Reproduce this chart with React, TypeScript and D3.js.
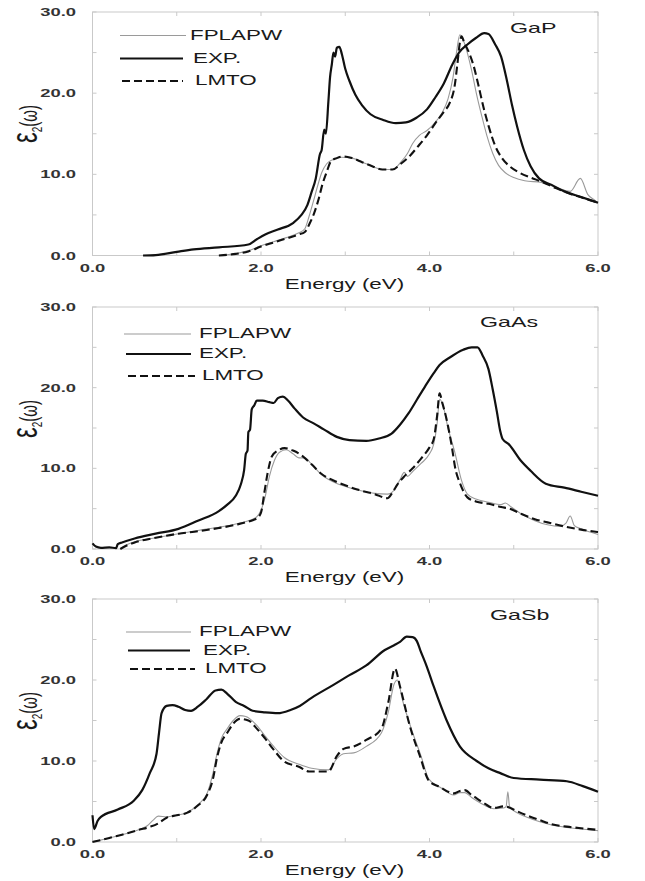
import React from "react";
import * as d3 from "d3";

type P = [number, number];

// ---------- data ----------
const xTicks = [0, 1, 2, 3, 4, 5, 6];
const xTickLabels = [0, 2, 4, 6];
const yTicks = [0, 5, 10, 15, 20, 25, 30];
const yTickLabels = [0, 10, 20, 30];
const seriesNames = ["FPLAPW", "EXP.", "LMTO"];
const materials = ["GaP", "GaAs", "GaSb"];

const gapExp: P[] = [[0.6,0],[0.75,0.05],[1.0,0.45],[1.2,0.75],[1.5,1.0],[1.85,1.35],[1.95,2.0],[2.05,2.6],[2.2,3.2],[2.38,4.0],[2.48,5.0],[2.55,6.2],[2.6,7.8],[2.65,9.5],[2.7,12.5],[2.72,13.0],[2.75,15.5],[2.77,15.0],[2.8,19.0],[2.82,22.0],[2.84,23.5],[2.86,25.0],[2.88,24.5],[2.9,25.6],[2.93,25.7],[2.96,24.8],[3.0,23.0],[3.05,21.5],[3.12,19.8],[3.2,18.5],[3.3,17.4],[3.45,16.7],[3.6,16.3],[3.72,16.4],[3.85,17.0],[3.97,18.0],[4.07,19.5],[4.17,21.2],[4.27,23.5],[4.35,25.0],[4.45,26.0],[4.55,26.8],[4.65,27.4],[4.7,27.3],[4.78,26.0],[4.85,24.5],[4.92,21.5],[4.98,18.5],[5.04,15.9],[5.12,13.0],[5.2,11.0],[5.3,9.5],[5.45,8.7],[5.6,7.9],[5.8,7.2],[6.0,6.5]];
const gapLmto: P[] = [[1.5,0],[1.7,0.2],[1.85,0.5],[2.0,1.1],[2.15,1.6],[2.3,2.1],[2.45,2.6],[2.52,2.9],[2.58,4.0],[2.63,5.2],[2.68,6.8],[2.73,8.8],[2.78,10.3],[2.83,11.6],[2.9,12.0],[2.98,12.2],[3.08,12.0],[3.2,11.5],[3.32,11.0],[3.44,10.6],[3.56,10.6],[3.66,11.3],[3.76,12.2],[3.86,13.4],[3.97,14.8],[4.07,16.3],[4.17,17.7],[4.24,18.8],[4.3,21.0],[4.33,23.5],[4.36,26.2],[4.38,27.0],[4.41,26.3],[4.46,25.2],[4.52,23.5],[4.58,21.0],[4.64,18.3],[4.7,16.0],[4.78,13.5],[4.86,12.0],[4.95,11.0],[5.05,10.3],[5.2,9.6],[5.33,9.1],[5.5,8.3],[5.67,7.6],[5.85,7.0],[6.0,6.5]];
const gapFp: P[] = [[1.5,0],[1.7,0.25],[1.85,0.6],[2.0,1.2],[2.15,1.7],[2.3,2.2],[2.45,2.8],[2.52,3.3],[2.57,4.8],[2.62,6.6],[2.67,8.5],[2.72,10.2],[2.78,11.3],[2.85,11.8],[2.95,12.1],[3.08,12.0],[3.2,11.5],[3.32,11.0],[3.44,10.6],[3.56,10.6],[3.66,11.5],[3.74,12.6],[3.8,13.8],[3.88,14.8],[3.97,15.4],[4.05,16.2],[4.15,17.6],[4.22,19.3],[4.28,22.0],[4.32,25.0],[4.36,27.2],[4.39,26.8],[4.44,25.3],[4.5,22.8],[4.56,19.8],[4.62,17.2],[4.68,14.8],[4.75,12.6],[4.82,11.1],[4.9,10.2],[5.0,9.6],[5.13,9.2],[5.33,9.0],[5.5,8.4],[5.67,7.9],[5.79,9.5],[5.88,7.5],[5.95,6.9],[6.0,6.5]];

const gaasExp: P[] = [[0.0,0.7],[0.04,0.3],[0.1,0.15],[0.2,0.2],[0.28,0.1],[0.3,0.6],[0.35,0.8],[0.5,1.3],[0.75,1.9],[1.02,2.5],[1.25,3.5],[1.5,4.7],[1.6,5.5],[1.7,6.6],[1.76,8.0],[1.8,9.8],[1.82,11.8],[1.84,12.2],[1.85,14.5],[1.87,14.8],[1.89,17.3],[1.92,17.8],[1.95,18.4],[2.02,18.4],[2.1,18.2],[2.15,18.1],[2.2,18.7],[2.26,18.9],[2.32,18.4],[2.4,17.4],[2.5,16.3],[2.62,15.6],[2.75,14.8],[2.9,13.9],[3.05,13.5],[3.25,13.4],[3.4,13.7],[3.55,14.3],[3.65,15.4],[3.75,16.8],[3.85,18.5],[3.95,20.2],[4.05,21.8],[4.12,22.8],[4.25,23.8],[4.4,24.7],[4.5,25.0],[4.57,25.0],[4.63,24.0],[4.7,22.3],[4.75,19.8],[4.8,17.0],[4.84,14.6],[4.87,13.6],[4.94,13.0],[5.08,11.0],[5.2,9.7],[5.38,8.1],[5.6,7.6],[5.8,7.1],[6.0,6.6]];
const gaasLmto: P[] = [[0.33,0],[0.4,0.4],[0.5,0.8],[0.75,1.4],[1.02,1.9],[1.25,2.2],[1.5,2.6],[1.7,3.0],[1.85,3.4],[1.95,3.8],[2.0,4.5],[2.04,7.0],[2.08,9.5],[2.13,11.5],[2.2,12.2],[2.28,12.5],[2.38,12.2],[2.47,11.7],[2.6,10.5],[2.72,9.3],[2.88,8.4],[3.05,7.7],[3.2,7.2],[3.35,6.8],[3.5,6.3],[3.56,7.0],[3.62,8.0],[3.7,9.0],[3.8,10.0],[3.9,11.2],[4.0,12.6],[4.05,13.6],[4.09,16.5],[4.12,19.3],[4.15,18.2],[4.2,16.2],[4.26,13.0],[4.31,9.8],[4.36,8.2],[4.45,6.4],[4.55,5.9],[4.7,5.6],[4.85,5.2],[4.95,5.0],[5.1,4.3],[5.25,3.7],[5.4,3.3],[5.6,2.8],[5.8,2.4],[6.0,2.1]];
const gaasFp: P[] = [[0.33,0],[0.4,0.5],[0.5,0.9],[0.75,1.4],[1.02,1.9],[1.25,2.3],[1.5,2.7],[1.7,3.1],[1.85,3.5],[1.95,4.0],[2.0,4.8],[2.05,6.5],[2.1,9.0],[2.16,11.0],[2.22,12.0],[2.3,12.3],[2.38,11.8],[2.45,11.3],[2.52,11.3],[2.6,10.5],[2.72,9.2],[2.88,8.2],[3.05,7.6],[3.2,7.2],[3.35,6.9],[3.5,6.8],[3.58,7.3],[3.65,8.6],[3.7,9.5],[3.74,9.0],[3.8,9.6],[3.9,10.6],[4.0,11.8],[4.05,13.0],[4.09,15.5],[4.12,18.6],[4.16,17.8],[4.22,15.0],[4.3,12.0],[4.38,8.5],[4.45,6.8],[4.55,6.2],[4.7,5.8],[4.85,5.5],[4.9,5.7],[4.97,5.2],[5.1,4.3],[5.25,3.5],[5.4,3.0],[5.55,2.8],[5.62,3.2],[5.67,4.1],[5.72,2.9],[5.8,2.5],[6.0,1.8]];

const gasbExp: P[] = [[0.0,3.3],[0.02,1.6],[0.06,2.6],[0.1,3.1],[0.3,4.0],[0.49,5.1],[0.59,6.4],[0.68,8.5],[0.76,10.9],[0.79,13.5],[0.82,15.9],[0.88,16.8],[0.95,16.9],[1.02,16.7],[1.1,16.3],[1.17,16.2],[1.25,16.7],[1.35,17.6],[1.46,18.7],[1.53,18.8],[1.6,18.3],[1.7,17.3],[1.8,16.8],[1.9,16.2],[2.05,16.0],[2.2,15.9],[2.35,16.3],[2.46,16.8],[2.6,17.8],[2.86,19.4],[3.05,20.6],[3.25,21.8],[3.47,23.7],[3.58,24.3],[3.65,24.7],[3.73,25.35],[3.8,25.3],[3.85,24.8],[3.89,23.7],[3.97,21.6],[4.05,19.2],[4.2,15.1],[4.36,11.8],[4.56,10.0],[4.7,9.1],[4.84,8.5],[5.0,7.9],[5.31,7.7],[5.63,7.5],[5.82,6.9],[6.0,6.2]];
const gasbLmto: P[] = [[0.0,0],[0.2,0.5],[0.35,0.9],[0.55,1.5],[0.69,1.9],[0.78,2.3],[0.88,3.0],[1.0,3.3],[1.12,3.6],[1.25,4.5],[1.36,5.8],[1.43,7.8],[1.48,10.5],[1.53,12.3],[1.6,13.5],[1.67,14.6],[1.75,15.2],[1.85,15.0],[1.95,14.0],[2.04,12.9],[2.15,11.4],[2.28,9.9],[2.45,9.3],[2.57,8.7],[2.8,8.7],[2.9,10.6],[2.98,11.5],[3.1,11.8],[3.25,12.6],[3.43,14.0],[3.51,17.2],[3.59,21.4],[3.65,19.2],[3.77,14.2],[3.89,10.5],[3.99,7.6],[4.12,6.8],[4.29,6.0],[4.36,6.3],[4.42,6.4],[4.5,5.8],[4.56,5.4],[4.66,4.7],[4.76,4.2],[4.88,4.4],[4.96,4.2],[5.04,3.8],[5.15,3.3],[5.31,2.7],[5.45,2.2],[5.63,1.9],[5.8,1.7],[6.0,1.5]];
const gasbFp: P[] = [[0.0,0],[0.2,0.5],[0.35,0.9],[0.55,1.5],[0.65,2.0],[0.72,2.7],[0.78,3.2],[0.88,3.1],[1.0,3.3],[1.12,3.6],[1.25,4.6],[1.36,6.0],[1.43,8.5],[1.48,11.0],[1.53,12.8],[1.6,14.0],[1.67,15.0],[1.75,15.6],[1.82,15.5],[1.95,14.4],[2.04,13.2],[2.15,11.8],[2.28,10.4],[2.45,9.6],[2.6,9.1],[2.8,8.9],[2.9,10.3],[2.98,10.9],[3.1,11.0],[3.25,11.8],[3.43,13.5],[3.51,16.0],[3.58,19.5],[3.62,20.0],[3.68,17.5],[3.79,13.8],[3.9,10.6],[3.99,7.8],[4.12,6.8],[4.29,5.8],[4.36,6.1],[4.42,6.1],[4.5,5.5],[4.56,5.1],[4.66,4.5],[4.76,4.1],[4.88,4.2],[4.91,4.4],[4.93,6.2],[4.95,4.4],[5.04,3.6],[5.15,3.1],[5.31,2.5],[5.45,2.1],[5.63,1.8],[5.8,1.6],[6.0,1.4]];

const panelSeries = [
  { fp: gapFp, exp: gapExp, lmto: gapLmto },
  { fp: gaasFp, exp: gaasExp, lmto: gaasLmto },
  { fp: gasbFp, exp: gasbExp, lmto: gasbLmto },
];

// ---------- layout ----------
const SX = 1.6; // horizontal text stretch of the reference
const FONT = "'Liberation Sans', Arial, Helvetica, sans-serif";
const layouts = [
  { top: 12, bottom: 255.5, name: [510, 32.7],
    legend: [ { x1: 120, x2: 186, tx: 190, by: 39.5 }, { x1: 120, x2: 183, tx: 193, by: 62.5 }, { x1: 122, x2: 183, tx: 195, by: 85 } ] },
  { top: 307, bottom: 549, name: [480, 327],
    legend: [ { x1: 124, x2: 191, tx: 199, by: 338 }, { x1: 126, x2: 191, tx: 199, by: 358 }, { x1: 128, x2: 195, tx: 202, by: 380 } ] },
  { top: 599, bottom: 842, name: [490, 620],
    legend: [ { x1: 126, x2: 191, tx: 199, by: 636 }, { x1: 128, x2: 190, tx: 203, by: 654.5 }, { x1: 130, x2: 195, tx: 205, by: 673 } ] },
];

const styles = [
  { stroke: "#9a9a9a", width: 1.1, dash: undefined as string | undefined },
  { stroke: "#111", width: 2.2, dash: undefined as string | undefined },
  { stroke: "#111", width: 2.1, dash: "8,4" },
];

const x = d3.scaleLinear().domain([0, 6]).range([92.5, 598]);

function SText(props: { x: number; y: number; anchor?: string; size: number; weight?: string; fill?: string; dy?: string; children: React.ReactNode }) {
  return (
    <text
      transform={`translate(${props.x},${props.y}) scale(${SX},1)`}
      textAnchor={props.anchor || "start"}
      fontSize={props.size}
      fontWeight={props.weight || "normal"}
      fill={props.fill || "#1a1a1a"}
      fontFamily={FONT}
      dy={props.dy}
    >
      {props.children}
    </text>
  );
}

function Panel({ idx }: { idx: number }) {
  const L = layouts[idx];
  const S = panelSeries[idx];
  const y = d3.scaleLinear().domain([0, 30]).range([L.bottom, L.top]);
  const line = d3
    .line<P>()
    .x((d) => x(d[0]))
    .y((d) => y(d[1]))
    .curve(d3.curveMonotoneX);
  const data = [S.fp, S.exp, S.lmto];
  const [xa, xb] = x.range();
  const frame = "#c9c9c9";
  return (
    <g>
      <rect x={xa} y={L.top} width={xb - xa} height={L.bottom - L.top} fill="none" stroke={frame} strokeWidth={1} />
      {xTicks.map((t) => (
        <g key={"xt" + t}>
          <line x1={x(t)} x2={x(t)} y1={L.bottom} y2={L.bottom - 4} stroke={frame} />
          <line x1={x(t)} x2={x(t)} y1={L.top} y2={L.top + 4} stroke={frame} />
        </g>
      ))}
      {yTicks.map((t) => (
        <g key={"yt" + t}>
          <line x1={xa} x2={xa + 4} y1={y(t)} y2={y(t)} stroke={frame} />
          <line x1={xb} x2={xb - 4} y1={y(t)} y2={y(t)} stroke={frame} />
        </g>
      ))}
      {yTickLabels.map((t) => (
        <SText key={"yl" + t} x={76} y={y(t)} anchor="end" size={11.5} weight="bold" fill="#333" dy="0.36em">
          {t.toFixed(1)}
        </SText>
      ))}
      {xTickLabels.map((t) => (
        <SText key={"xl" + t} x={x(t)} y={L.bottom + 16} anchor="middle" size={11.5} weight="bold" fill="#333">
          {t.toFixed(1)}
        </SText>
      ))}
      <SText x={344.5} y={L.bottom + 33} anchor="middle" size={14} fill="#1a1a1a">
        Energy (eV)
      </SText>
      <text
        transform={`translate(37,${L.top + 112}) scale(1.55,1) rotate(-90)`}
        textAnchor="middle"
        fontFamily={FONT}
        fill="#1a1a1a"
      >
        <tspan fontSize={24}>ε</tspan>
        <tspan fontSize={10} dy={3}>2</tspan>
        <tspan fontSize={15} dy={-3}>(ω)</tspan>
      </text>
      {data.map((d, i) => (
        <path
          key={"s" + i}
          d={line(d) || ""}
          fill="none"
          stroke={styles[i].stroke}
          strokeWidth={styles[i].width}
          strokeDasharray={styles[i].dash}
          strokeLinejoin="round"
        />
      ))}
      {L.legend.map((lg, i) => (
        <g key={"lg" + i}>
          <line x1={lg.x1} x2={lg.x2} y1={lg.by - 4} y2={lg.by - 4} stroke={styles[i].stroke} strokeWidth={styles[i].width} strokeDasharray={styles[i].dash} />
          <SText x={lg.tx} y={lg.by} size={14}>
            {seriesNames[i]}
          </SText>
        </g>
      ))}
      <SText x={L.name[0]} y={L.name[1]} size={14.5}>
        {materials[idx]}
      </SText>
    </g>
  );
}

export default function App() {
  return (
    <svg width={645} height={881} style={{ position: "absolute", left: 0, top: 0, background: "#fff" }}>
      <rect width={645} height={881} fill="#fff" />
      {[0, 1, 2].map((i) => (
        <Panel key={i} idx={i} />
      ))}
    </svg>
  );
}
